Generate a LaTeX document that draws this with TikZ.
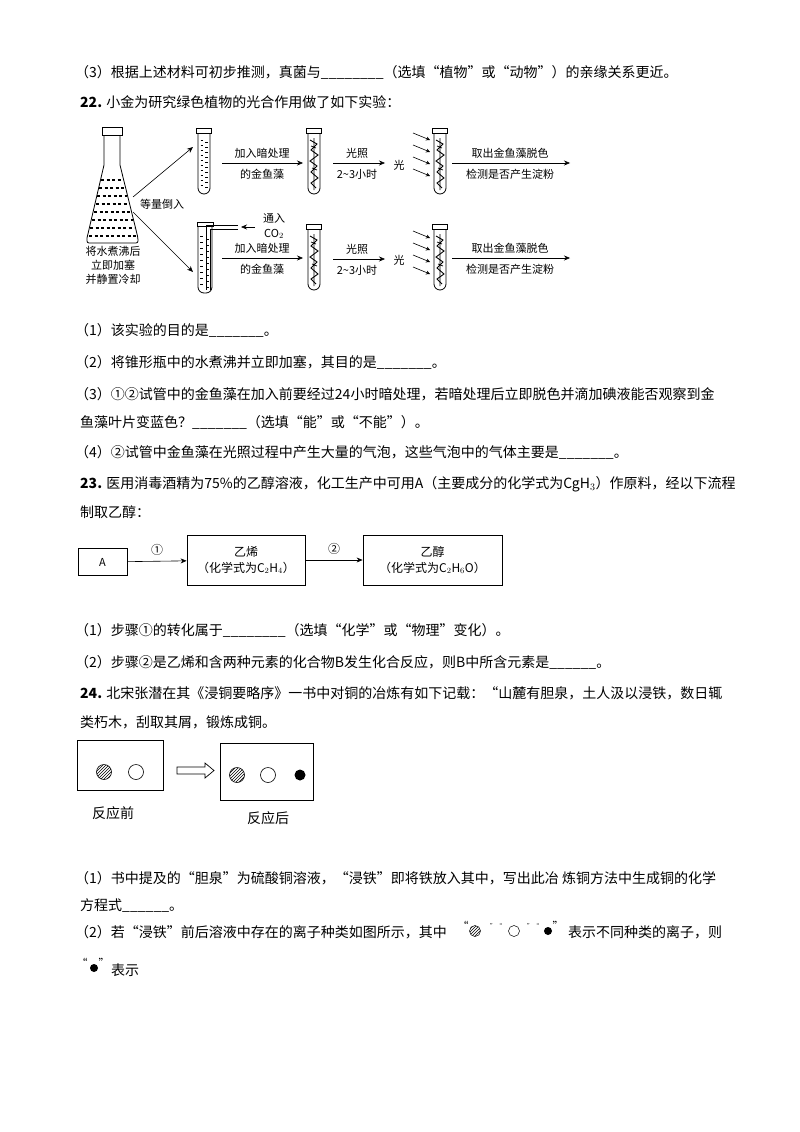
\documentclass[tikz,border=0pt]{standalone}
\usepackage{fontspec}
\setmainfont{Noto Sans CJK SC}
\usetikzlibrary{patterns,arrows.meta}
\newcommand{\mytube}[3]{% x, ytop, kind (0 dashes,1 weed)
  \draw[line width=0.8pt] (#1-1.5,#2) rectangle (#1+13.5,#2+5);
  \draw[line width=0.8pt,rounded corners=6pt] (#1,#2+5) -- (#1,#2+66) -- (#1+12,#2+66) -- (#1+12,#2+5);
  \ifnum#3=0
    \foreach \yy in {12,17,...,60}{\draw[line width=0.9pt] (#1+2.5,#2+\yy) -- (#1+5,#2+\yy) (#1+7,#2+\yy+2.5) -- (#1+9.5,#2+\yy+2.5);}
  \else
    \draw[line width=0.9pt] (#1+2,#2+12) -- (#1+9,#2+16) -- (#1+3,#2+22) -- (#1+10,#2+27) -- (#1+2,#2+33) -- (#1+9,#2+38) -- (#1+3,#2+44) -- (#1+10,#2+50) -- (#1+3,#2+55) -- (#1+8,#2+60);
    \draw[line width=0.7pt] (#1+6,#2+10) -- (#1+6,#2+62) (#1+3,#2+18)--(#1+8,#2+20) (#1+4,#2+40)--(#1+9,#2+42);
  \fi}
\begin{document}
\begin{tikzpicture}[x=1pt,y=-1pt,
  every node/.style={inner sep=0pt,font=\fontsize{14}{16}\selectfont},
  ln/.style={anchor=west},
  sm/.style={font=\fontsize{11}{12}\selectfont},
  arr/.style={-{Stealth[length=6pt,width=5pt]},line width=0.6pt},
  box/.style={draw,line width=0.8pt}]
\useasboundingbox (0,0) rectangle (800,1132);
\node[ln] (t1) at (75,72) {（3）根据上述材料可初步推测，真菌与\_\_\_\_\_\_\_\_（选填“植物”或“动物”）的亲缘关系更近。};
\node[ln] (t2) at (80,102) {\textbf{22.} 小金为研究绿色植物的光合作用做了如下实验：};
% flask
\draw[line width=0.8pt] (102,127) rectangle (122,135);
\draw[line width=0.8pt] (104,135) -- (104,165) -- (87,238) [rounded corners=2pt]-- (87,243) -- (138,243) -- (138,238) [sharp corners]-- (120,165) -- (120,135);
\foreach \yy/\l/\r in {180/101/123,188/99/125,196/97/127,204/96/129,212/94/131,220/92/133,228/90/134,236/89/136}{
  \draw[line width=1.2pt,dash pattern=on 3pt off 2.5pt] (\l,\yy) -- (\r,\yy);}
\node[sm] (f1) at (113,251) {将水煮沸后};
\node[sm] (f2) at (113,265) {立即加塞};
\node[sm] (f3) at (113,279) {并静置冷却};
\coordinate (fl) at (133,197); \coordinate (fl2) at (133,212);
\coordinate (ta) at (193,147); \coordinate (tb) at (193,272);
\draw[arr] (fl) -- (ta); \draw[arr] (fl2) -- (tb);
\node[sm] (pour) at (162,204) {等量倒入};
% top row
\mytube{198}{128}{0}
\mytube{308}{128}{1}
\mytube{434}{128}{1}
\coordinate (a1) at (222,163); \coordinate (a2) at (303,163);
\draw[arr] (a1) -- (a2);
\node[sm] (l1) at (262,153) {加入暗处理};
\node[sm] (l2) at (262,174) {的金鱼藻};
\coordinate (b1) at (333,163); \coordinate (b2) at (385,163);
\draw[arr] (b1) -- (b2);
\node[sm] (l3) at (357,153) {光照};
\node[sm] (l4) at (357,174) {2\textasciitilde3小时};
\node[sm] (g1) at (399,165) {光};
\foreach \yy in {140,152,164,176}{\draw[arr,-{Stealth[length=4pt,width=4pt]}] (413,\yy-7) -- (430,\yy);}
\coordinate (c1) at (452,163); \coordinate (c2) at (570,163);
\draw[arr] (c1) -- (c2);
\node[sm] (l5) at (510,153) {取出金鱼藻脱色};
\node[sm] (l6) at (510,174) {检测是否产生淀粉};
% bottom row
\draw[line width=0.8pt] (197,222) rectangle (213,226);
\draw[line width=0.8pt,rounded corners=6pt] (198,226) -- (198,293) -- (212,293) -- (212,226);
\foreach \yy in {236,242,...,286}{\draw[line width=0.9pt] (200,\yy) -- (203,\yy) (206,\yy+3) -- (209,\yy+3);}
\draw[line width=0.7pt] (238,225) -- (206,225) -- (206,290) (238,229) -- (210,229) -- (210,290);
\coordinate (co) at (255,227); \coordinate (co2) at (241,227);
\draw[arr] (co) -- (co2);
\node[sm] (c3) at (274,218) {通入};
\node[sm] (c4) at (274,234) {CO$_2$};
\mytube{308}{224}{1}
\mytube{434}{224}{1}
\coordinate (d1) at (222,258); \coordinate (d2) at (303,258);
\draw[arr] (d1) -- (d2);
\node[sm] (m1) at (262,248) {加入暗处理};
\node[sm] (m2) at (262,269) {的金鱼藻};
\coordinate (e1) at (333,259); \coordinate (e2) at (385,259);
\draw[arr] (e1) -- (e2);
\node[sm] (m3) at (357,249) {光照};
\node[sm] (m4) at (357,270) {2\textasciitilde3小时};
\node[sm] (g2) at (399,260) {光};
\foreach \yy in {238,250,262,274}{\draw[arr,-{Stealth[length=4pt,width=4pt]}] (413,\yy-7) -- (430,\yy);}
\coordinate (h1) at (452,258); \coordinate (h2) at (570,258);
\draw[arr] (h1) -- (h2);
\node[sm] (m5) at (510,248) {取出金鱼藻脱色};
\node[sm] (m6) at (510,269) {检测是否产生淀粉};
% questions 22
\node[ln] (q1) at (75,330) {（1）该实验的目的是\_\_\_\_\_\_\_。};
\node[ln] (q2) at (75,362) {（2）将锥形瓶中的水煮沸并立即加塞，其目的是\_\_\_\_\_\_\_。};
\node[ln] (q3) at (75,394) {（3）①②试管中的金鱼藻在加入前要经过24小时暗处理，若暗处理后立即脱色并滴加碘液能否观察到金};
\node[ln] (q3b) at (80,422) {鱼藻叶片变蓝色？\_\_\_\_\_\_\_（选填“能”或“不能”）。};
\node[ln] (q4) at (75,452) {（4）②试管中金鱼藻在光照过程中产生大量的气泡，这些气泡中的气体主要是\_\_\_\_\_\_\_。};
% 23
\node[ln] (s1) at (80,484) {\textbf{23.} 医用消毒酒精为75\%的乙醇溶液，化工生产中可用A（主要成分的化学式为CgH$_3$）作原料，经以下流程};
\node[ln] (s2) at (80,512) {制取乙醇：};
\node[box,minimum width=49pt,minimum height=27pt,font=\fontsize{11}{12}\selectfont] (A) at (102.5,562) {A};
\node[box,minimum width=118pt,minimum height=50pt,align=center,font=\fontsize{12}{16}\selectfont] (E) at (246,560) {乙烯\\（化学式为C$_2$H$_4$）};
\node[box,minimum width=139pt,minimum height=50pt,align=center,font=\fontsize{12}{16}\selectfont] (Al) at (432.5,560) {乙醇\\（化学式为C$_2$H$_6$O）};
\draw[arr] (A) -- node[above=5pt,font=\fontsize{12}{12}\selectfont]{①} (E);
\draw[arr] (E) -- node[above=5pt,font=\fontsize{12}{12}\selectfont]{②} (Al);
\node[ln] (r1) at (75,630) {（1）步骤①的转化属于\_\_\_\_\_\_\_\_（选填“化学”或“物理”变化）。};
\node[ln] (r2) at (75,662) {（2）步骤②是乙烯和含两种元素的化合物B发生化合反应，则B中所含元素是\_\_\_\_\_\_。};
% 24
\node[ln] (u1) at (80,693) {\textbf{24.} 北宋张潜在其《浸铜要略序》一书中对铜的冶炼有如下记载：“山麓有胆泉，土人汲以浸铁，数日辄};
\node[ln] (u2) at (80,722) {类朽木，刮取其屑，锻炼成铜。};
\node[box,minimum width=86pt,minimum height=50pt] (B1) at (120,765) {};
\node[box,minimum width=93pt,minimum height=57pt] (B2) at (266.5,771.5) {};
\draw[pattern=north east lines,line width=0.6pt] (104,772) circle (7.5);
\draw[line width=0.6pt] (136,772) circle (7.5);
\draw[pattern=north east lines,line width=0.6pt] (237,775) circle (7.5);
\draw[line width=0.6pt] (268,775) circle (7.5);
\fill (300,775) circle (5.5);
\draw[line width=0.7pt] (177,767) -- (205,767) -- (205,763) -- (214,770.5) -- (205,778) -- (205,774) -- (177,774) -- cycle;
\node (k1) at (113,813) {反应前};
\node (k2) at (268,818) {反应后};
\node[ln] (v1) at (75,878) {（1）书中提及的“胆泉”为硫酸铜溶液，“浸铁”即将铁放入其中，写出此冶 炼铜方法中生成铜的化学};
\node[ln] (v2) at (80,906) {方程式\_\_\_\_\_\_。};
\node[ln] (v3) at (75,932) {（2）若“浸铁”前后溶液中存在的离子种类如图所示，其中};
\node[sm] (qa) at (463,926) {“};
\draw[pattern=north east lines,line width=0.5pt] (475,931) circle (5.5);
\node[font=\fontsize{6}{6}\selectfont] (qb) at (496,926) {”“};
\draw[line width=0.5pt] (514,931) circle (5.5);
\node[font=\fontsize{6}{6}\selectfont] (qc) at (533,926) {”“};
\fill (548,931) circle (4);
\node[sm] (qd) at (558,926) {”};
\node[ln] (v4) at (568,932) {表示不同种类的离子，则};
\node[sm] (qe) at (82,963) {“};
\fill (94,968) circle (4);
\node[sm] (qf) at (104,963) {”};
\node[ln] (v5) at (111,970) {表示};
\end{tikzpicture}
\end{document}
